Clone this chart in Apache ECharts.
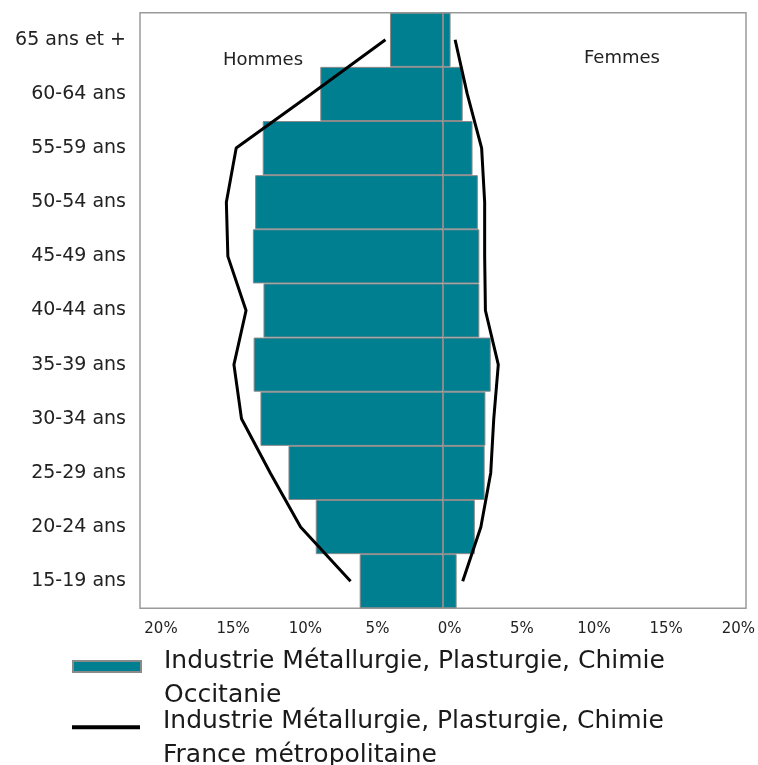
<!DOCTYPE html>
<html>
<head>
<meta charset="utf-8">
<script src="https://cdn.jsdelivr.net/npm/echarts@6/dist/echarts.min.js"></script>
<style>
html,body{margin:0;padding:0;background:#fff;}
#chart{width:758px;height:765px;}
</style>
</head>
<body>
<div id="chart"></div>
<script>
// Age groups, bottom to top
var categories = ['15-19 ans','20-24 ans','25-29 ans','30-34 ans','35-39 ans','40-44 ans','45-49 ans','50-54 ans','55-59 ans','60-64 ans','65 ans et +'];
// Occitanie (bars), % of workforce
var occitanieHommes = [5.5, 8.4, 10.2, 12.05, 12.5, 11.85, 12.55, 12.4, 11.9, 8.1, 3.5];
var occitanieFemmes = [0.9, 2.1, 2.75, 2.8, 3.15, 2.4, 2.4, 2.3, 1.95, 1.3, 0.5];
// France métropolitaine (lines)
var franceHommes = [6.1, 9.4, 11.4, 13.3, 13.8, 13.0, 14.2, 14.3, 13.65, 8.7, 3.8];
var franceFemmes = [1.3, 2.5, 3.15, 3.35, 3.65, 2.8, 2.75, 2.75, 2.55, 1.6, 0.8];
// x-axis tick values
var xTicks = [-20, -15, -10, -5, 0, 5, 10, 15, 20];

var nameOcc = 'Industrie Métallurgie, Plasturgie, Chimie\nOccitanie';
var nameFr = 'Industrie Métallurgie, Plasturgie, Chimie\nFrance métropolitaine';
var FONT = 'DejaVu Sans';
var TEAL = '#007f91';

var chart = echarts.init(document.getElementById('chart'), null, {renderer: 'canvas'});
var neg = function (arr) { return arr.map(function (v) { return -v; }); };
var legendFmt = function (name) {
  var parts = name.split('\n');
  return '{e| }\n{t|' + parts[0] + '}\n{t|' + parts[1] + '}';
};
var legendText = function (h) {
  return {fontSize: 25, lineHeight: 34, color: '#1a1a1a', fontFamily: FONT, padding: [0, 0, 0, 18],
    rich: {
      e: {fontSize: 1, lineHeight: h},
      t: {fontSize: 25, lineHeight: 34, color: '#1a1a1a', fontFamily: FONT}
    }};
};

var option = {
  backgroundColor: '#ffffff',
  animation: false,
  textStyle: {fontFamily: FONT},
  grid: [
    {left: 140, right: 12, top: 12.7, bottom: 156.7, show: true, borderColor: '#9a9a9a', borderWidth: 1.5, backgroundColor: 'transparent', containLabel: false},
    {left: 161, right: 18, top: 12.7, bottom: 156.7, show: false, containLabel: false}
  ],
  xAxis: [
    {type: 'value', gridIndex: 0, min: xTicks[0], max: xTicks[xTicks.length - 1], interval: 5,
     axisLabel: {show: false}, axisLine: {show: false}, axisTick: {show: false}, splitLine: {show: false}},
    {type: 'value', gridIndex: 1, min: xTicks[0], max: xTicks[xTicks.length - 1], interval: 5,
     axisLine: {show: false}, axisTick: {show: false}, splitLine: {show: false},
     axisLabel: {show: true, margin: 13, fontSize: 15, color: '#222', fontFamily: FONT,
       formatter: function (v) { return Math.abs(v) + '%'; }}}
  ],
  yAxis: [
    {type: 'category', gridIndex: 0, data: categories, boundaryGap: true,
     axisLine: {show: false}, axisTick: {show: false}, splitLine: {show: false},
     axisLabel: {margin: 14, fontSize: 19, color: '#222', fontFamily: FONT}},
    {type: 'value', gridIndex: 1, show: false, min: 0, max: 1}
  ],
  legend: [
    {data: [{name: nameOcc, icon: 'rect'}], left: 72, top: 620.4, padding: 0, orient: 'vertical',
     itemWidth: 68, itemHeight: 11, formatter: legendFmt, textStyle: legendText(24)},
    {data: [{name: nameFr, icon: 'rect'}], left: 72, top: 682.3, padding: 0, orient: 'vertical',
     itemWidth: 68, itemHeight: 4, formatter: legendFmt, textStyle: legendText(22)}
  ],
  graphic: [
    {type: 'text', left: 223, top: 51, style: {text: 'Hommes', fontSize: 18, fill: '#222', fontFamily: FONT}},
    {type: 'text', left: 584, top: 49, style: {text: 'Femmes', fontSize: 18, fill: '#222', fontFamily: FONT}}
  ],
  series: [
    {name: nameOcc, type: 'bar', xAxisIndex: 0, yAxisIndex: 0, data: neg(occitanieHommes),
     barCategoryGap: '0%', barGap: '-100%',
     itemStyle: {color: TEAL, borderColor: '#8a8a8a', borderWidth: 1}},
    {name: nameOcc, type: 'bar', xAxisIndex: 0, yAxisIndex: 0, data: occitanieFemmes,
     barCategoryGap: '0%', barGap: '-100%',
     itemStyle: {color: TEAL, borderColor: '#8a8a8a', borderWidth: 1},
     markLine: {silent: true, symbol: 'none', label: {show: false},
       lineStyle: {color: '#8a8a8a', width: 1, type: 'solid'},
       data: [{xAxis: 0}]}},
    {name: nameFr, type: 'line', xAxisIndex: 0, yAxisIndex: 0, data: neg(franceHommes),
     symbol: 'none', lineStyle: {color: '#000', width: 3}, itemStyle: {color: '#000'}, z: 5},
    {name: nameFr, type: 'line', xAxisIndex: 0, yAxisIndex: 0, data: franceFemmes,
     symbol: 'none', lineStyle: {color: '#000', width: 3}, itemStyle: {color: '#000'}, z: 5}
  ]
};
chart.setOption(option);
</script>
</body>
</html>
